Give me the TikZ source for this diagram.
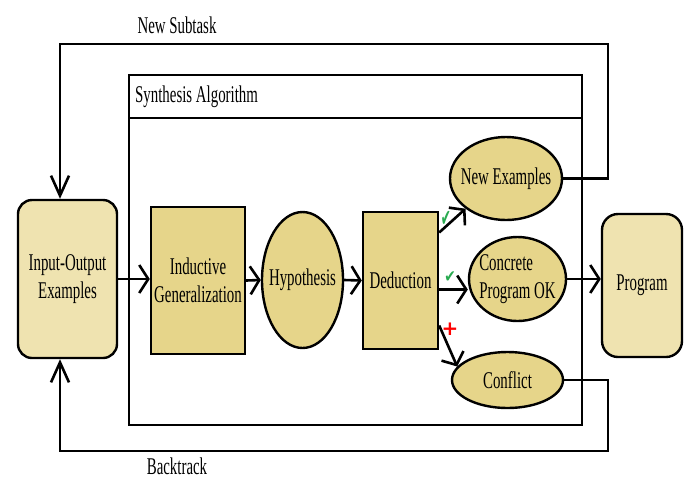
\documentclass[tikz,border=0pt]{standalone}
\usepackage{fontspec}
\setmainfont[FakeStretch=0.62]{Liberation Serif}
\newfontfamily\symfont{DejaVu Sans}
\usetikzlibrary{arrows.meta,shapes.geometric,calc}
\definecolor{lighttan}{RGB}{239,227,176}
\definecolor{darktan}{RGB}{230,213,138}
\definecolor{checkgreen}{RGB}{40,170,80}
\tikzset{
  lbl/.style={font=\fontsize{24}{28}\selectfont, inner sep=0pt},
  shp/.style={draw=black, line width=2.4pt, inner sep=0pt, lbl},
  roundbox/.style={shp, rectangle, rounded corners=14pt, fill=lighttan, align=center},
  sqbox/.style={shp, rectangle, fill=darktan, align=center},
  ell/.style={shp, ellipse, fill=darktan},
  conn/.style={line width=2.6pt, draw=black},
  arrH/.style={conn, -{Straight Barb[length=9pt,width=28pt]}},
  arrV/.style={conn, -{Straight Barb[length=20pt,width=18pt]}},
  arrD/.style={conn, -{Straight Barb[length=10pt,width=24pt]}},
  frame/.style={line width=2.6pt, draw=black},
  sym/.style={inner sep=0pt}
}
\begin{document}
\begin{tikzpicture}[x=1pt,y=-1pt]
\useasboundingbox (0,0) rectangle (687,480);
% synthesis frame
\draw[frame] (129,75) rectangle (582,425);
\draw[frame] (129,118) -- (582,118);
\node[lbl, anchor=west] (title) at (135,97) {Synthesis Algorithm};
% nodes
\node[roundbox, minimum width=99pt, minimum height=158pt] (io) at (67.5,279) {Input-Output\\Examples};
\node[sqbox, minimum width=94pt, minimum height=147pt] (ind) at (198,280.5) {Inductive\\Generalization};
\node[ell, minimum width=81pt, minimum height=136pt, label={[lbl]center:Hypothesis}] (hyp) at (302.5,280) {};
\node[sqbox, minimum width=75pt, minimum height=137pt] (ded) at (400.5,280.5) {Deduction};
\node[ell, minimum width=112pt, minimum height=83pt, label={[lbl]center:New Examples}] (newex) at (506,178.5) {};
\node[ell, minimum width=97pt, minimum height=84pt, label={[lbl, align=left]center:Concrete\\Program OK}] (conc) at (517.5,279) {};
\node[ell, minimum width=111pt, minimum height=56pt, label={[lbl]center:Conflict}] (conf) at (507.5,380) {};
\node[roundbox, rounded corners=16pt, minimum width=80pt, minimum height=143pt] (prog) at (642,285.5) {Program};
% loop coordinates
\coordinate (subR) at (608,44);
\coordinate (subL) at (60,44);
\coordinate (btR) at (608,451);
\coordinate (btL) at (60,451);
% loop labels
\node[lbl] (sublbl) at (177,25) {New Subtask};
\node[lbl] (btlbl) at (177,466) {Backtrack};
% feedback loops
\draw[arrV] (newex.east) -- (newex.east -| subR) -- (subR) -- (subL) -- (subL |- io.north);
\draw[arrV] (conf.east) -- (conf.east -| btR) -- (btR) -- (btL) -- (btL |- io.south);
% main flow
\draw[arrH] (io.east) -- (io.east -| ind.west);
\draw[arrH] (ind.east) -- (hyp.west);
\draw[arrH] (hyp.east) -- (ded.west);
\draw[arrH] ([yshift=-9pt]ded.east) -- ([yshift=-9pt]ded.east -| conc.west);
\draw[arrH] (conc.east) -- (conc.east -| prog.west);
\draw[arrD] ([yshift=48pt]ded.east) -- (newex.south west);
\draw[arrD] ([yshift=-45pt]ded.east) -- (conf.165);
% marks
\node[sym, text=checkgreen, font=\symfont\fontsize{24}{24}\selectfont, xscale=0.5] (chk1) at (446,219) {✔};
\node[sym, text=checkgreen, font=\symfont\fontsize{17}{17}\selectfont, xscale=0.8] (chk2) at (450,277) {✔};
\node[sym, text=red, font=\symfont\bfseries\fontsize{20}{20}\selectfont] (plus) at (450,329) {+};
\end{tikzpicture}
\end{document}
